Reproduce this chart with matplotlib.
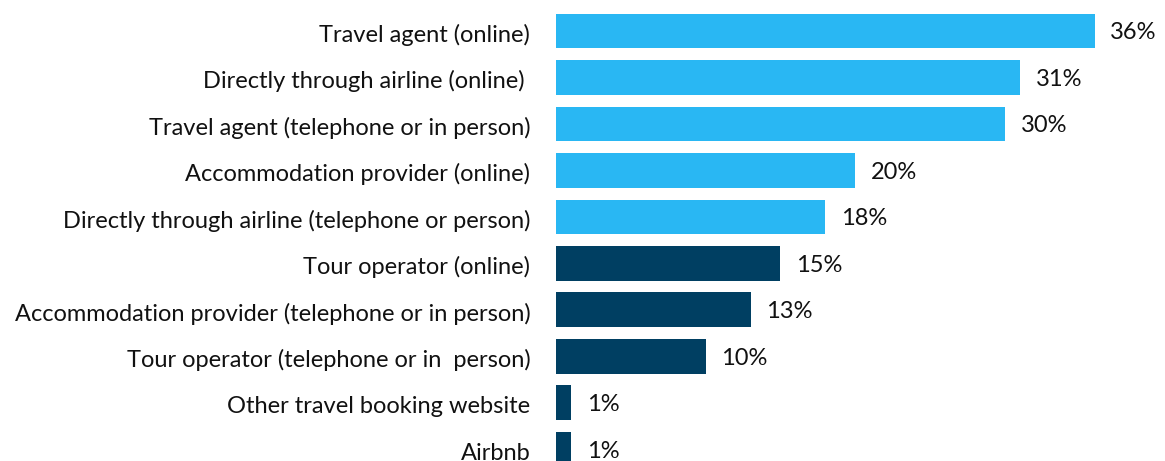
import matplotlib
matplotlib.use("Agg")
import matplotlib.pyplot as plt

# ---------------- DATA ----------------
categories = [
    "Travel agent (online)",
    "Directly through airline (online) ",
    "Travel agent (telephone or in person)",
    "Accommodation provider (online)",
    "Directly through airline (telephone or person)",
    "Tour operator (online)",
    "Accommodation provider (telephone or in person)",
    "Tour operator (telephone or in  person)",
    "Other travel booking website",
    "Airbnb",
]
values = [36, 31, 30, 20, 18, 15, 13, 10, 1, 1]
labels = ["36%", "31%", "30%", "20%", "18%", "15%", "13%", "10%", "1%", "1%"]
online_group = [True, True, True, True, True, False, False, False, False, False]

LIGHT = "#29B7F3"
DARK = "#003F62"

plt.rcParams["font.family"] = ["Lato", "DejaVu Sans"]

fig = plt.figure(figsize=(11.65, 4.61), dpi=100)
ax = fig.add_axes([556 / 1165, 0, 1 - 556 / 1165, 1])

ypos = list(range(len(categories)))
colors = [LIGHT if g else DARK for g in online_group]
ax.barh(ypos, values, height=0.75, color=colors)

for y, v, lab in zip(ypos, values, labels):
    ax.text(v + 1.05, y + 0.04, lab, va="center", ha="left", fontsize=17, color="#111111")

ax.set_yticks([y + 0.04 for y in ypos])
ax.set_yticklabels(categories, fontsize=17, color="#111111")
ax.tick_params(axis="y", length=0, pad=18.5)
ax.set_xticks([])
ax.set_xlim(0, 40.7)
ax.set_ylim(9.25, -0.667)
for s in ax.spines.values():
    s.set_visible(False)

fig.savefig("out.png", dpi=100)
